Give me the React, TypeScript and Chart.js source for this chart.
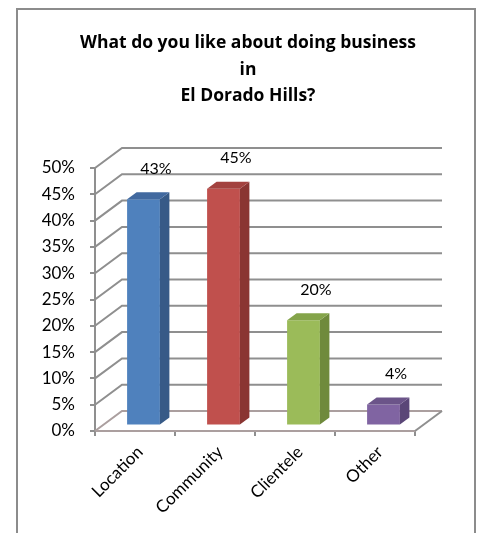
import React, { useEffect, useRef } from "react";
import { Chart, registerables } from "chart.js";

Chart.register(...registerables);

const TITLE_LINES = ["What do you like about doing business", "in", "El Dorado Hills?"];
const CATEGORIES = ["Location", "Community", "Clientele", "Other"];
const VALUES = [43, 45, 20, 4];
const VALUE_LABELS = ["43%", "45%", "20%", "4%"];
const FRONT_COLORS = ["#4f81bd", "#c0504d", "#9bbb59", "#8064a2"];
const SIDE_COLORS = ["#375a87", "#8a3532", "#6f8a3c", "#5a4677"];
const TOP_COLORS = ["#41699f", "#a3423f", "#84a44a", "#6b5489"];
const Y_MIN = 0;
const Y_MAX = 50;
const Y_STEP = 5;

const FONT = "Lato, 'Open Sans', sans-serif";
const TITLE_FONT = "'Open Sans', Lato, sans-serif";
const GRID = "#8f8f8f";
const FLOOR = "#ab9f9f";
const WALL_D = { x: 27, y: -20 };
const BAR_SHIFT = { x: 8.5, y: -5.5 };
const BAR_D = { x: 9.5, y: -7 };

const threeD = {
  id: "threeD",
  beforeDatasetsDraw(chart: any) {
    const { ctx, chartArea } = chart;
    const ys = chart.scales.y;
    const { left, right, bottom } = chartArea;
    ctx.save();
    ctx.lineWidth = 2;
    for (let v = Y_MIN; v <= Y_MAX; v += Y_STEP) {
      const py = ys.getPixelForValue(v);
      ctx.strokeStyle = v === Y_MIN ? FLOOR : GRID;
      ctx.beginPath();
      ctx.moveTo(left, py);
      ctx.lineTo(left + WALL_D.x, py + WALL_D.y);
      ctx.lineTo(right + WALL_D.x, py + WALL_D.y);
      ctx.stroke();
    }
    ctx.strokeStyle = GRID;
    ctx.beginPath();
    ctx.moveTo(right, bottom);
    ctx.lineTo(right + WALL_D.x, bottom + WALL_D.y);
    ctx.stroke();
    ctx.restore();
    ctx.save();
    ctx.translate(BAR_SHIFT.x, BAR_SHIFT.y);
  },
  afterDatasetsDraw(chart: any) {
    const { ctx } = chart;
    ctx.restore();
    const meta = chart.getDatasetMeta(0);
    const ys = chart.scales.y;
    ctx.save();
    meta.data.forEach((bar: any, i: number) => {
      const p = bar.getProps(["x", "y", "base", "width"], true);
      const l = p.x - p.width / 2 + BAR_SHIFT.x;
      const r = p.x + p.width / 2 + BAR_SHIFT.x;
      const t = p.y + BAR_SHIFT.y;
      const b = p.base + BAR_SHIFT.y;
      ctx.fillStyle = SIDE_COLORS[i];
      ctx.beginPath();
      ctx.moveTo(r, t);
      ctx.lineTo(r + BAR_D.x, t + BAR_D.y);
      ctx.lineTo(r + BAR_D.x, b + BAR_D.y);
      ctx.lineTo(r, b);
      ctx.closePath();
      ctx.fill();
      ctx.fillStyle = TOP_COLORS[i];
      ctx.beginPath();
      ctx.moveTo(l, t);
      ctx.lineTo(l + BAR_D.x, t + BAR_D.y);
      ctx.lineTo(r + BAR_D.x, t + BAR_D.y);
      ctx.lineTo(r, t);
      ctx.closePath();
      ctx.fill();
      ctx.fillStyle = "#000";
      ctx.font = `16px ${FONT}`;
      ctx.textAlign = "center";
      ctx.textBaseline = "middle";
      ctx.fillText(VALUE_LABELS[i], p.x + 21, ys.getPixelForValue(VALUES[i]) - 36);
    });
    ctx.restore();
  },
};

export default function App() {
  const ref = useRef<HTMLCanvasElement>(null);
  useEffect(() => {
    const chart = new Chart(ref.current!, {
      type: "bar",
      data: {
        labels: CATEGORIES,
        datasets: [
          {
            data: VALUES,
            backgroundColor: FRONT_COLORS,
            borderWidth: 0,
            barPercentage: 0.41,
            categoryPercentage: 1,
            clip: false as any,
          },
        ],
      },
      plugins: [threeD],
      options: {
        animation: false,
        responsive: false,
        maintainAspectRatio: false,
        layout: { padding: { left: 16, top: 10, right: 0, bottom: 0 } },
        plugins: {
          legend: { display: false },
          tooltip: { enabled: false },
          title: {
            display: true,
            text: TITLE_LINES,
            color: "#000",
            font: { family: TITLE_FONT, size: 17.5, weight: "bold", lineHeight: 26.4 / 17.5 },
            padding: { top: 20, bottom: 58.8 },
          },
        },
        scales: {
          x: {
            ticks: {
              autoSkip: false,
              maxRotation: 45,
              minRotation: 45,
              color: "#000",
              font: { family: FONT, size: 17 },
              padding: 6,
              labelOffset: 5,
            },
            grid: { drawOnChartArea: false, offset: true, tickLength: 5, color: GRID, lineWidth: 2 },
            border: { color: FLOOR, width: 2 },
            afterFit: (s: any) => {
              s.height = 102;
            },
          },
          y: {
            min: Y_MIN,
            max: Y_MAX,
            ticks: {
              stepSize: Y_STEP,
              color: "#000",
              font: { family: FONT, size: 17 },
              padding: 15,
              callback: (v: any) => `${v}%`,
            },
            grid: { drawOnChartArea: false, tickLength: 5, color: GRID, lineWidth: 2 },
            border: { color: GRID, width: 2 },
            afterFit: (s: any) => {
              s.width = 79;
            },
          },
          y2: {
            position: "right",
            display: true,
            ticks: { display: false },
            grid: { display: false },
            border: { display: false },
            afterFit: (s: any) => {
              s.width = 65;
            },
          },
        },
      } as any,
    });
    return () => chart.destroy();
  }, []);
  return (
    <div style={{ position: "fixed", left: 0, top: 0, width: 480, height: 533, overflow: "hidden", background: "#fff" }}>
      <div
        style={{
          position: "absolute",
          left: 16,
          top: 8,
          width: 460,
          height: 560,
          border: "2px solid #8c8c8c",
          boxSizing: "border-box",
        }}
      />
      <canvas ref={ref} width={480} height={533} style={{ position: "absolute", left: 0, top: 0 }} />
    </div>
  );
}
